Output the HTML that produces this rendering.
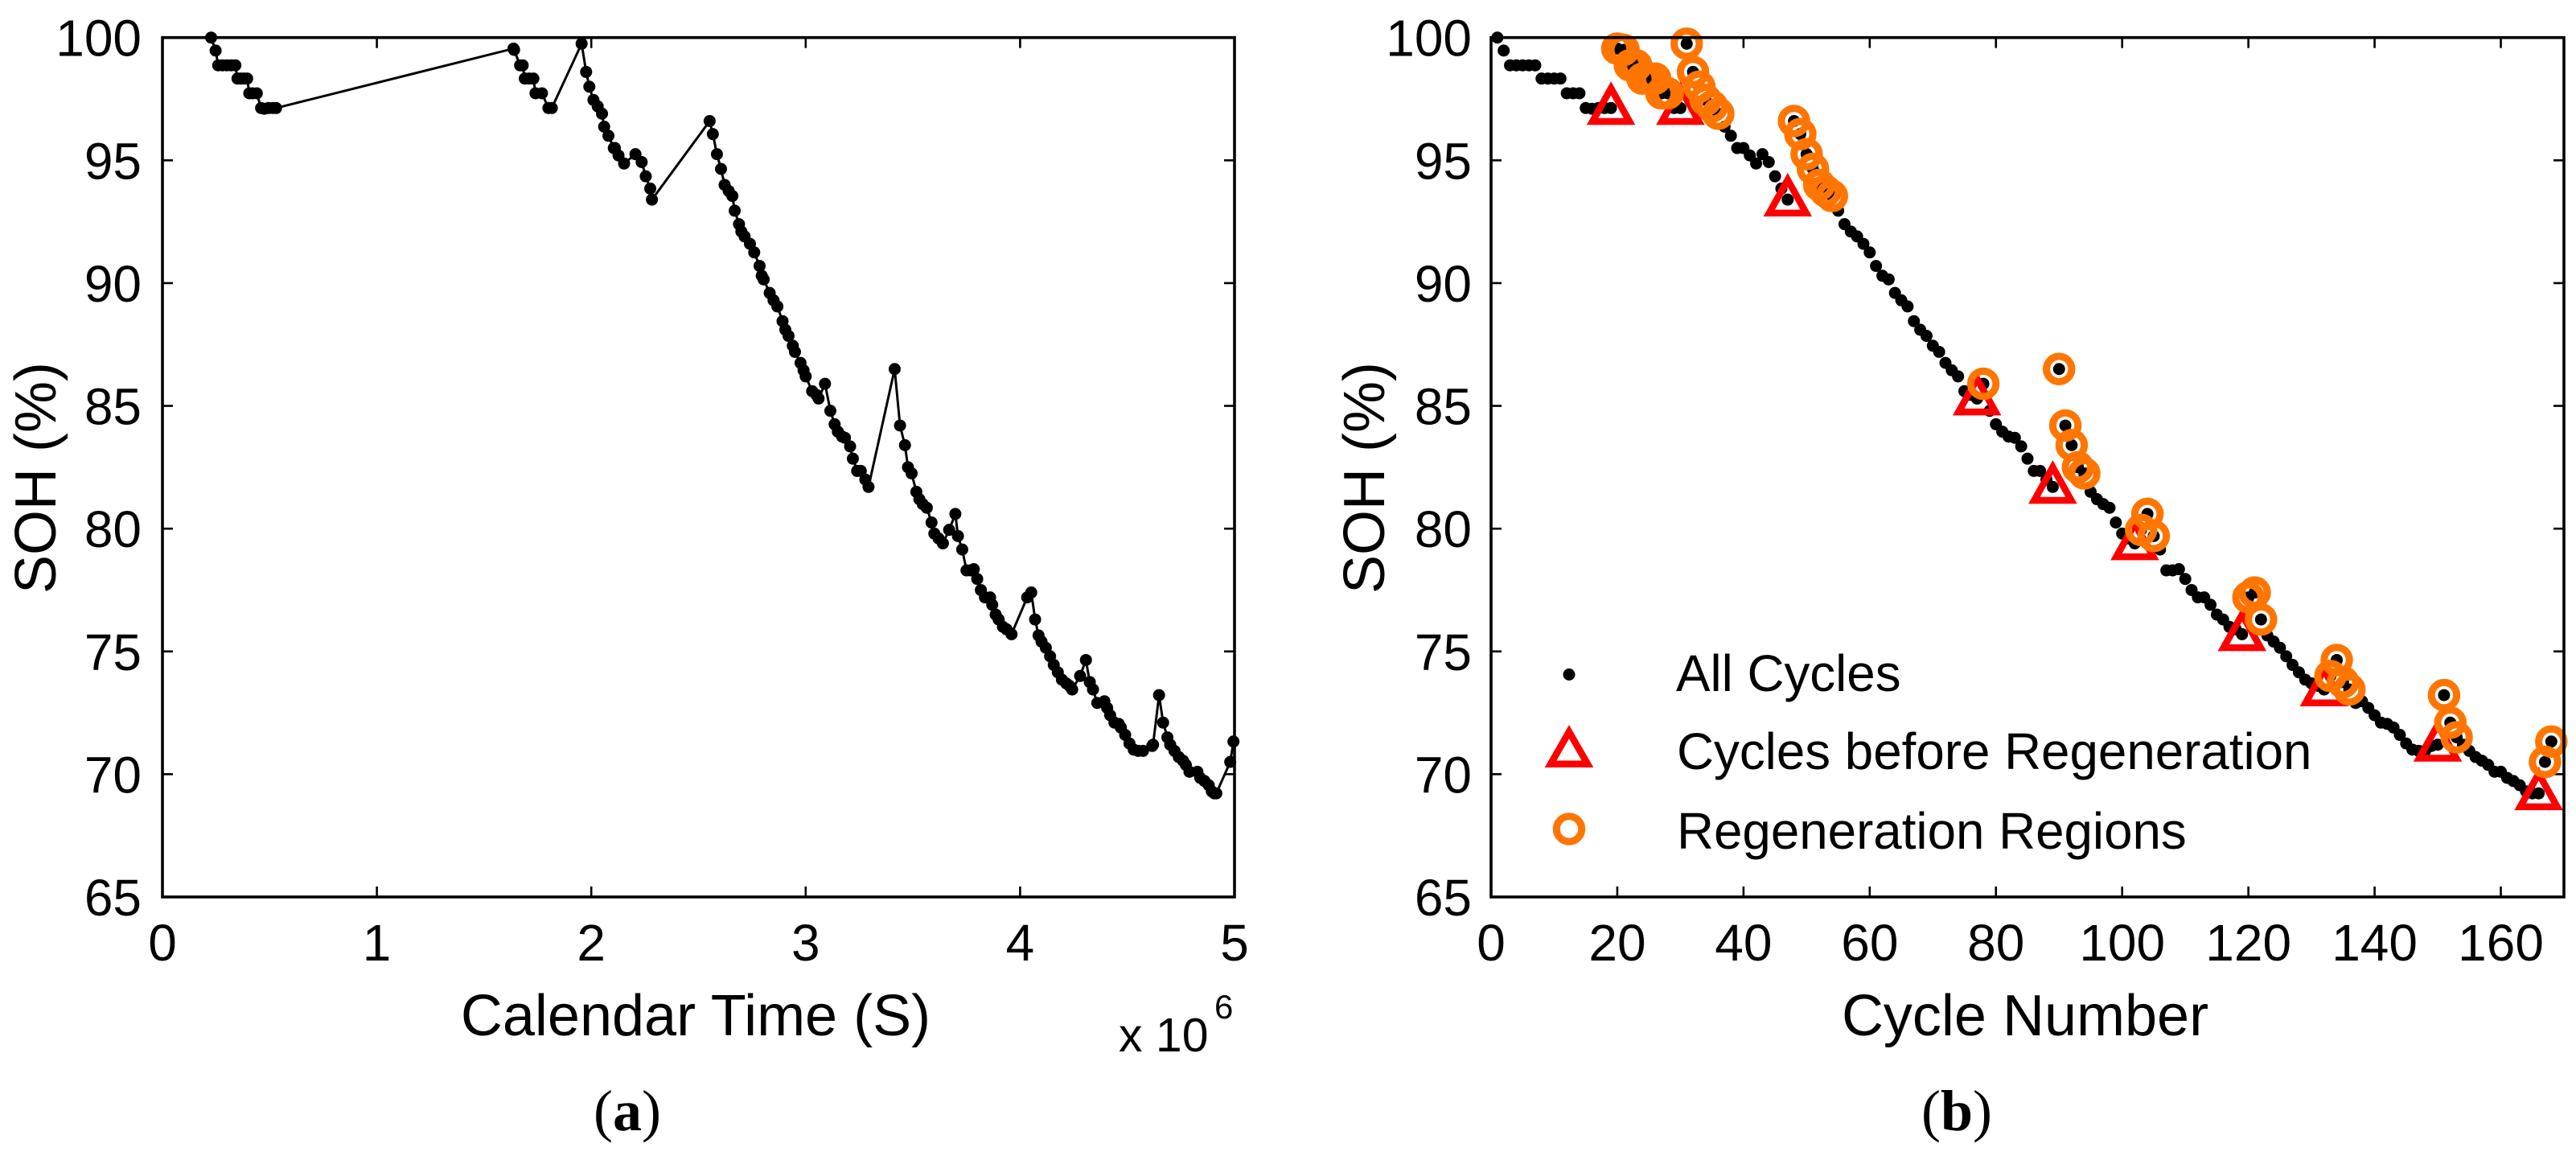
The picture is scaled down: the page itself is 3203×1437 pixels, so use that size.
<!DOCTYPE html>
<html lang="en">
<head>
<meta charset="utf-8">
<title>SOH vs Calendar Time and Cycle Number</title>
<style>
html,body{margin:0;padding:0;background:#fff;}
svg{display:block;}
text{font-family:"Liberation Sans",sans-serif;fill:#000;}
.tick{font-size:64px;}
.title{font-size:72px;}
.legend{font-size:63.7px;}
.cap{font-family:"Liberation Serif",serif;font-size:72px;}
.cap .b{font-weight:bold;}
</style>
</head>
<body>
<svg id="fig" xmlns="http://www.w3.org/2000/svg" width="3203" height="1437" viewBox="0 0 3203 1437">
  <rect x="0" y="0" width="3203" height="1437" fill="#fff"/>
  <g id="panelA"></g>
  <g id="panelB"></g>

  <text class="title" text-anchor="middle" transform="translate(69,594) rotate(-90)">SOH (%)</text>
  <text class="title" text-anchor="middle" x="865" y="1287">Calendar Time (S)</text>
  <text font-size="59" x="1391" y="1307">x 10</text>
  <text font-size="42" x="1510" y="1266">6</text>
  <text class="cap" text-anchor="middle" x="780" y="1405">(<tspan class="b">a</tspan>)</text>

  <text class="title" text-anchor="middle" transform="translate(1721,594) rotate(-90)">SOH (%)</text>
  <text class="title" text-anchor="middle" x="2518" y="1287">Cycle Number</text>
  <text class="cap" text-anchor="middle" x="2433" y="1405">(<tspan class="b">b</tspan>)</text>

  <g id="legend">
    <circle cx="1951" cy="838.5" r="7.5" fill="#000"/>
    <polygon points="1951,909.7 1974,949.7 1928,949.7" fill="none" stroke="#ff0000" stroke-width="8.5"/>
    <circle cx="1951" cy="1030.5" r="15.7" fill="none" stroke="#ff7500" stroke-width="9"/>
    <text class="legend" x="2084" y="859">All Cycles</text>
    <text class="legend" x="2085" y="956">Cycles before Regeneration</text>
    <text class="legend" x="2085" y="1055">Regeneration Regions</text>
  </g>
</svg>
<script>
var cycleNumbers = [
1,2,3,4,5,6,7,8,9,10,11,12,13,14,15,16,17,18,19,20,
21,22,23,24,25,26,27,28,29,30,31,32,33,34,35,36,37,38,39,40,
41,42,43,44,45,46,47,48,49,50,51,52,53,54,55,56,57,58,59,60,
61,62,63,64,65,66,67,68,69,70,71,72,73,74,75,76,77,78,79,80,
81,82,83,84,85,86,87,88,89,90,91,92,93,94,95,96,97,98,99,100,
101,102,103,104,105,106,107,108,109,110,111,112,113,114,115,116,117,118,119,120,
121,122,123,124,125,126,127,128,129,130,131,132,133,134,135,136,137,138,139,140,
141,142,143,144,145,146,147,148,149,150,151,152,153,154,155,156,157,158,159,160,
161,162,163,164,165,166,167,168];
var soh = [
100,99.47,98.87,98.87,98.87,98.87,98.87,98.33,98.33,98.33,
98.33,97.73,97.73,97.73,97.13,97.1,97.13,97.13,97.13,99.55,
99.5,98.87,98.87,98.33,98.33,98.33,97.73,97.73,97.13,97.13,
99.75,98.6,98.0,97.46,97.2,96.9,96.37,96.0,95.5,95.5,
95.2,94.87,95.25,94.93,94.35,93.85,93.4,96.6,96.07,95.25,
94.65,94.0,93.75,93.55,92.95,92.4,92.1,91.9,91.6,91.25,
90.7,90.3,90.15,89.6,89.3,89.05,88.45,88.1,87.85,87.45,
87.2,86.75,86.45,86.2,85.6,85.45,85.3,85.9,84.8,84.25,
83.95,83.75,83.7,83.35,82.85,82.35,82.35,82.0,81.7,86.5,
84.2,83.4,82.5,82.25,81.5,81.2,81.0,80.85,80.25,79.8,
79.6,79.4,79.95,80.6,79.7,79.15,78.3,78.3,78.35,77.95,
77.5,77.2,77.2,76.9,76.5,76.3,76.0,75.9,75.7,77.2,
77.4,76.3,75.65,75.4,75.15,74.8,74.45,74.15,73.85,73.7,
73.6,73.45,74.0,74.65,73.75,73.45,72.9,72.97,72.7,72.4,
72.1,72.05,71.9,71.6,71.25,71.0,70.95,70.95,71.15,71.2,
73.22,72.1,71.5,71.2,70.95,70.7,70.55,70.38,70.1,70.1,
69.85,69.72,69.55,69.3,69.22,69.22,70.5,71.33];
var calendarTimeMega = [
.227,.248,.26,.28,.30,.32,.34,.35,.365,.38,
.395,.405,.42,.44,.46,.475,.495,.515,.53,1.637,
1.64,1.668,1.68,1.69,1.71,1.73,1.74,1.77,1.80,1.816,
1.955,1.976,1.991,2.01,2.03,2.05,2.06,2.08,2.105,2.11,
2.127,2.153,2.206,2.235,2.254,2.275,2.283,2.552,2.567,2.586,
2.605,2.622,2.641,2.658,2.669,2.689,2.70,2.715,2.74,2.76,
2.785,2.795,2.804,2.832,2.85,2.868,2.892,2.905,2.92,2.94,
2.95,2.976,2.99,3.0,3.03,3.05,3.06,3.09,3.115,3.135,
3.15,3.17,3.183,3.207,3.22,3.24,3.257,3.278,3.293,3.415,
3.44,3.463,3.477,3.494,3.516,3.53,3.546,3.565,3.587,3.60,
3.62,3.64,3.669,3.698,3.71,3.73,3.75,3.769,3.784,3.80,
3.817,3.836,3.86,3.87,3.886,3.90,3.92,3.937,3.96,4.033,
4.052,4.07,4.086,4.10,4.12,4.14,4.157,4.176,4.195,4.215,
4.23,4.243,4.28,4.307,4.325,4.34,4.36,4.393,4.406,4.42,
4.44,4.46,4.47,4.49,4.51,4.53,4.55,4.573,4.616,4.62,
4.648,4.667,4.687,4.70,4.72,4.74,4.76,4.773,4.79,4.827,
4.84,4.86,4.88,4.894,4.906,4.915,4.98,4.995];
var beforeRegenCycles = [19,30,47,77,89,102,119,132,150,166];
var regenCycles = [20,21,22,23,24,25,26,27,28,31,32,33,34,35,36,48,49,50,51,52,53,54,78,90,91,92,93,94,103,104,105,120,121,122,133,134,135,136,151,152,153,167,168];
var yTickLabels = [65,70,75,80,85,90,95,100];
var xTickLabelsA = [0,1,2,3,4,5];
var xTickLabelsB = [0,20,40,60,80,100,120,140,160];

var NS = 'http://www.w3.org/2000/svg';
var yTop = 46.7, yBottom = 1115;
function yScale(v){ return yBottom - (v - 65) / 35 * (yBottom - yTop); }
function xScaleA(v){ return 202 + v / 5 * (1535 - 202); }
function xScaleB(v){ return 1854 + v / 170 * (3188 - 1854); }

function svgEl(tag, parent){
  var el = document.createElementNS(NS, tag);
  parent.appendChild(el);
  return el;
}

function drawAxes(group, xScale, xLabels, left, right, labelGap){
  yTickLabels.forEach(function(v){
    var y = yScale(v);
    if (v !== 65 && v !== 100) {
      [[left, left + 13], [right, right - 13]].forEach(function(p){
        var t = svgEl('line', group);
        
        
        t.setAttribute('x1', p[0]);
        t.setAttribute('x2', p[1]);
        t.setAttribute('y1', y);
        t.setAttribute('y2', y);
        t.setAttribute('stroke', '#000');
        t.setAttribute('stroke-width', '2.6');
      });
    }
    var label = svgEl('text', group);
    
    
    label.setAttribute('class', 'tick');
    label.setAttribute('text-anchor', 'end');
    label.setAttribute('x', left - labelGap);
    label.setAttribute('y', y + 23);
    label.textContent = v;
  });

  xLabels.forEach(function(v){
    var x = xScale(v);
    if (x > left + 1 && x < right - 1) {
      [[yBottom, yBottom - 13], [yTop, yTop + 13]].forEach(function(p){
        var t = svgEl('line', group);
        
        
        t.setAttribute('x1', x);
        t.setAttribute('x2', x);
        t.setAttribute('y1', p[0]);
        t.setAttribute('y2', p[1]);
        t.setAttribute('stroke', '#000');
        t.setAttribute('stroke-width', '2.6');
      });
    }
    var label = svgEl('text', group);
    
    
    label.setAttribute('class', 'tick');
    label.setAttribute('text-anchor', 'middle');
    label.setAttribute('x', x);
    label.setAttribute('y', 1194);
    label.textContent = v;
  });
}

function drawFrame(group, left, right){
  var box = svgEl('rect', group);
  
  
  box.setAttribute('x', left);
  box.setAttribute('y', yTop);
  box.setAttribute('width', right - left);
  box.setAttribute('height', yBottom - yTop);
  box.setAttribute('fill', 'none');
  box.setAttribute('stroke', '#000');
  box.setAttribute('stroke-width', '3.6');
}

function drawDots(group, xValues, xScale){
  soh.forEach(function(v, i){
    var dot = svgEl('circle', group);
    
    
    dot.setAttribute('cx', xScale(xValues[i]));
    dot.setAttribute('cy', yScale(v));
    dot.setAttribute('r', '7.5');
    dot.setAttribute('fill', '#000');
  });
}

var panelA = document.getElementById('panelA');
var panelB = document.getElementById('panelB');

drawAxes(panelA, xScaleA, xTickLabelsA, 202, 1535, 26);
var linePts = soh.map(function(v, i){
  return xScaleA(calendarTimeMega[i]).toFixed(1) + ',' + yScale(v).toFixed(1);
}).join(' ');
var sohLine = svgEl('polyline', panelA);


sohLine.setAttribute('points', linePts);
sohLine.setAttribute('fill', 'none');
sohLine.setAttribute('stroke', '#000');
sohLine.setAttribute('stroke-width', '3');
drawDots(panelA, calendarTimeMega, xScaleA);
drawFrame(panelA, 202, 1535);

drawAxes(panelB, xScaleB, xTickLabelsB, 1854, 3188, 24);
drawDots(panelB, cycleNumbers, xScaleB);

beforeRegenCycles.forEach(function(c){
  var x = xScaleB(c), y = yScale(soh[c - 1]);
  var tri = svgEl('polygon', panelB);
  
  
  tri.setAttribute('points', x + ',' + (y - 24.5) + ' ' + (x + 23) + ',' + (y + 16.7) + ' ' + (x - 23) + ',' + (y + 16.7));
  tri.setAttribute('fill', 'none');
  tri.setAttribute('stroke', '#ff0000');
  tri.setAttribute('stroke-width', '8.5');
});

regenCycles.forEach(function(c){
  var ring = svgEl('circle', panelB);
  
  
  ring.setAttribute('cx', xScaleB(c));
  ring.setAttribute('cy', yScale(soh[c - 1]));
  ring.setAttribute('r', '15.7');
  ring.setAttribute('fill', 'none');
  ring.setAttribute('stroke', '#ff7500');
  ring.setAttribute('stroke-width', '9');
});
drawFrame(panelB, 1854, 3188);
</script>
</body>
</html>
